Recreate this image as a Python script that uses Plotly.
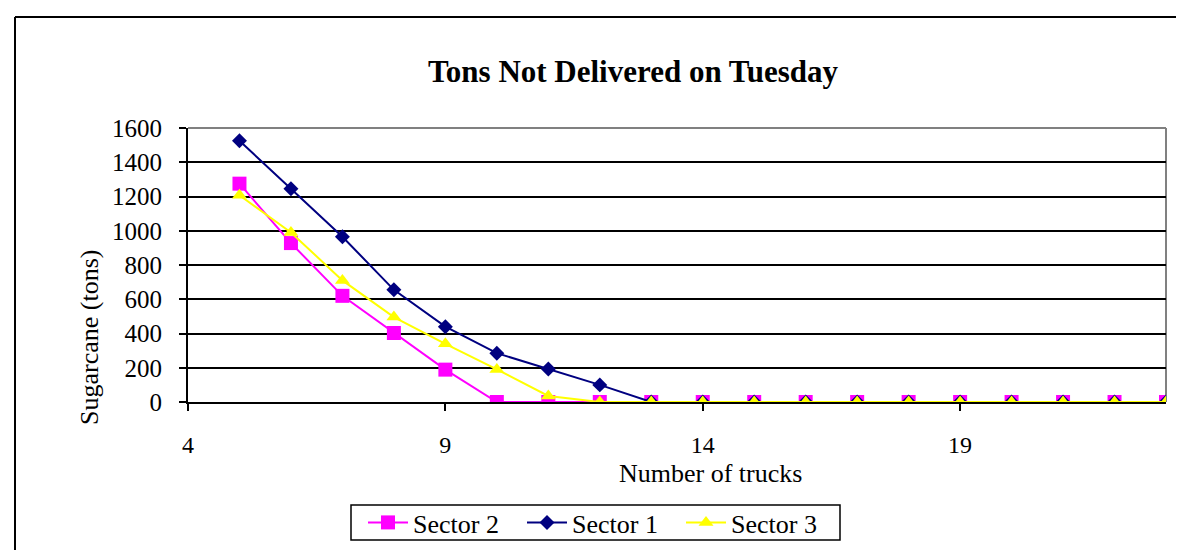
import plotly.graph_objects as go

trucks = list(range(5, 24))
sector2 = [1275, 928, 620, 403, 189, 0, 0, 0, 0, 0, 0, 0, 0, 0, 0, 0, 0, 0, 0]
sector1 = [1525, 1245, 965, 655, 440, 285, 193, 100, 0, 0, 0, 0, 0, 0, 0, 0, 0, 0, 0]
sector3 = [1207, 990, 710, 496, 340, 190, 35, 0, 0, 0, 0, 0, 0, 0, 0, 0, 0, 0, 0]

title_text = "Tons Not Delivered on Tuesday"
x_title = "Number of trucks"
y_title = "Sugarcane (tons)"
x_ticks = [4, 9, 14, 19]
y_ticks = [0, 200, 400, 600, 800, 1000, 1200, 1400, 1600]

FONT = "Liberation Serif"
W, H = 1184, 550
L, R, T, B = 180, 26, 120, 156
PW, PH = W - L - R, H - T - B


def px(x):
    return (x - L) / PW


def py(y):
    return (H - B - y) / PH


fig = go.Figure()
fig.add_trace(go.Scatter(
    x=trucks, y=sector2, name="Sector 2", mode="lines+markers",
    line=dict(color="#FF00FF", width=2),
    marker=dict(symbol="square", size=14, color="#FF00FF"),
))
fig.add_trace(go.Scatter(
    x=trucks, y=sector1, name="Sector 1", mode="lines+markers",
    line=dict(color="#000080", width=2),
    marker=dict(symbol="diamond", size=11.5, color="#000080"),
))
fig.add_trace(go.Scatter(
    x=trucks, y=sector3, name="Sector 3", mode="lines+markers",
    line=dict(color="#FFFF00", width=2),
    marker=dict(symbol="triangle-up", size=13, color="#FFFF00"),
))

fig.update_layout(
    width=W, height=H,
    margin=dict(l=L, r=R, t=T, b=B),
    paper_bgcolor="white", plot_bgcolor="white",
    font=dict(family=FONT, size=26, color="black"),
    showlegend=True,
    legend=dict(
        orientation="h", x=px(355), xanchor="left", y=py(514.5), yanchor="middle",
        borderwidth=0, bgcolor="rgba(0,0,0,0)",
        font=dict(family=FONT, size=26, color="black"),
        itemwidth=40, tracegroupgap=0,
        entrywidth=104, entrywidthmode="pixels",
    ),
    xaxis=dict(
        range=[4, 23], tickvals=x_ticks, ticktext=[str(v) for v in x_ticks],
        showgrid=False, zeroline=False,
        showline=True, linecolor="black", linewidth=2,
        ticks="outside", ticklen=7, tickwidth=1.5, tickcolor="black",
        ticklabelstandoff=13,
        tickfont=dict(family=FONT, size=24, color="black"),
    ),
    yaxis=dict(
        range=[0, 1600], tickvals=y_ticks, ticktext=[str(v) for v in y_ticks],
        showgrid=True, gridcolor="black", gridwidth=1.5, zeroline=False,
        showline=True, linecolor="black", linewidth=2,
        ticks="outside", ticklen=7, tickwidth=1.5, tickcolor="black",
        ticklabelstandoff=12,
        tickfont=dict(family=FONT, size=25, color="black"),
    ),
    shapes=[
        dict(type="line", xref="paper", yref="paper", x0=0, x1=1, y0=1, y1=1,
             line=dict(color="#808080", width=2), layer="between"),
        dict(type="line", xref="paper", yref="paper", x0=1, x1=1, y0=0, y1=1,
             line=dict(color="#808080", width=2), layer="between"),
        dict(type="line", xref="paper", yref="paper", x0=px(7), x1=px(1184), y0=py(9), y1=py(9),
             line=dict(color="black", width=2)),
        dict(type="line", xref="paper", yref="paper", x0=px(7), x1=px(7), y0=py(9), y1=py(550),
             line=dict(color="black", width=2)),
        dict(type="rect", xref="paper", yref="paper", x0=px(343), x1=px(832), y0=py(497), y1=py(532),
             line=dict(color="black", width=1.5), fillcolor="rgba(0,0,0,0)"),
    ],
    annotations=[
        dict(text="<b>" + title_text + "</b>", xref="paper", yref="paper",
             x=px(625), y=py(63), xanchor="center", yanchor="middle", showarrow=False,
             font=dict(family=FONT, size=31, color="black")),
        dict(text=x_title, xref="paper", yref="paper",
             x=px(702), y=py(465), xanchor="center", yanchor="middle", showarrow=False,
             font=dict(family=FONT, size=26, color="black")),
        dict(text=y_title, xref="paper", yref="paper", textangle=-90,
             x=px(81), y=py(330), xanchor="center", yanchor="middle", showarrow=False,
             font=dict(family=FONT, size=26, color="black")),
    ],
)

fig.write_html("out.html")
